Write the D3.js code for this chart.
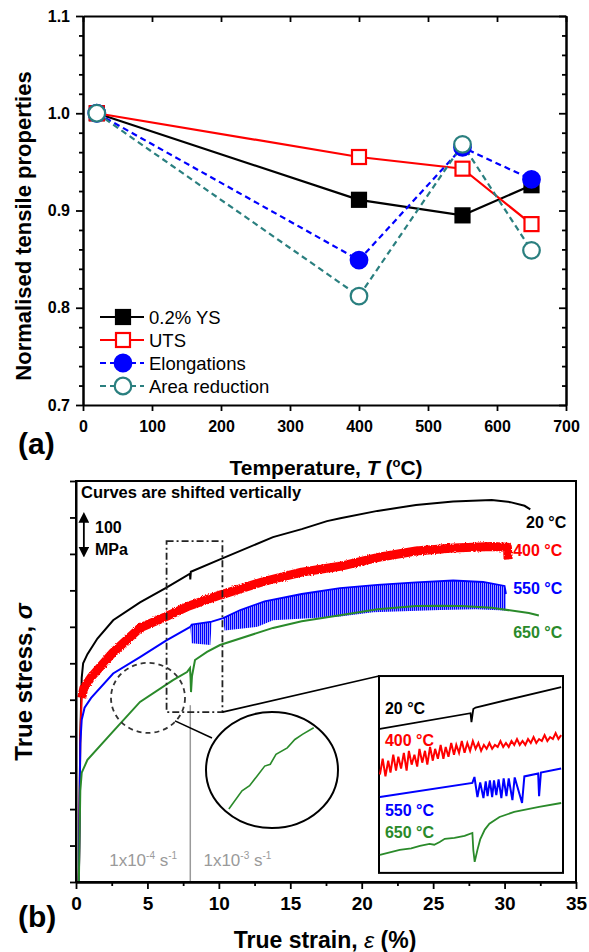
<!DOCTYPE html>
<html><head><meta charset="utf-8">
<script src="https://cdn.jsdelivr.net/npm/d3@7"></script>
<style>body{margin:0;background:#fff}svg{display:block}</style>
</head><body><svg id="c" width="589" height="952"></svg>
<script>
// ---------------- Panel (a) data ----------------
const temps = [20, 400, 550, 650];
const ys02 = [1.0, 0.911, 0.895, 0.926];
const uts = [1.0, 0.955, 0.943, 0.886];
const elong = [1.0, 0.849, 0.965, 0.932];
const areaRed = [1.0, 0.812, 0.968, 0.859];
const seriesNames = ["0.2% YS", "UTS", "Elongations", "Area reduction"];
const xTicksA = [0, 100, 200, 300, 400, 500, 600, 700];
const yTicksA = [0.7, 0.8, 0.9, 1.0, 1.1];
const yMinorA = [0.72,0.74,0.76,0.78,0.82,0.84,0.86,0.88,0.92,0.94,0.96,0.98,1.02,1.04,1.06,1.08];

// ---------------- Panel (b) data (strain %, stress MPa, curves shifted) ----------------
const xTicksB = [0, 5, 10, 15, 20, 25, 30, 35];
const xMinorB = [2.5, 7.5, 12.5, 17.5, 22.5, 27.5, 32.5];
const yTicksB = [0,100,200,300,400,500,600,700,800,900,1000,1100];
const curve20 = [[0.2,0],[0.3,400],[0.4,560],[0.5,600],[0.8,625],[1.5,668],[2.6,718],[4.48,767],[6.3,807],[7.98,846],[8.0,830],[8.04,851],[10.08,885],[13.79,946],[15.8,968],[17.57,990],[18.5,998],[21.1,1018],[23.8,1034],[26.4,1044],[29.1,1048],[30.4,1042],[31.4,1032],[31.8,1022]];
const curve400Elastic = [[0.2,0],[0.3,400],[0.4,505]];
const curve400 = [[0.4,505],[0.55,532],[1.06,562],[2.6,630],[4.48,697],[6.3,728],[7.9,757],[10.08,787],[13.2,825],[15.8,850],[18.48,866],[21.1,890],[23.8,908],[26.4,916],[29.1,920],[30.2,918],[30.25,885]];
const curve550 = [[0.2,0],[0.3,380],[0.4,445],[0.6,478],[1.06,505],[2.6,572],[4.48,617],[6.3,662],[8.0,700]];
const curve550Upper = [[8.0,700],[8.1,706],[9.5,714],[10.3,724],[11.5,746],[13.2,770],[15.8,790],[18.48,806],[21.1,815],[23.8,822],[26.4,827],[28.5,823],[30.0,812],[30.1,790]];
const curve550Lower = [[8.0,700],[8.1,655],[9.4,650],[9.5,714],[10.3,724],[10.4,690],[12.7,700],[13.8,718],[18.5,728],[20.8,740],[25.5,746],[28,748],[30.0,745],[30.1,745]];
const curve650 = [[0.2,0],[0.3,250],[0.4,300],[0.8,335],[2.6,413],[4.48,494],[6.79,554],[7.77,576],[7.98,587],[8.02,560],[8.05,521],[8.12,565],[8.33,609],[9.17,631],[10.08,650],[13.79,697],[15.8,715],[18.48,732],[21.1,748],[23.8,757],[25.48,758],[27,757],[29.1,752],[31.7,738],[32.4,731]];
const zoomLine650 = [[10.70,200],[11.62,250],[12.15,264],[12.68,291],[13.21,318],[13.60,323],[14.00,350],[14.79,368],[15.32,391],[15.85,405],[16.64,423]];
const curveLabels = ["20 °C", "400 °C", "550 °C", "650 °C"];

// inset: x in strain %, y in relative units 0..100
const inset20 = [[6.32,73.1],[8.29,81.1],[8.31,76.6],[8.35,83.2],[8.40,84.0],[10.26,94.4]];
const inset400 = [[6.32,50],[6.38,58],[6.44,49],[6.50,57],[6.55,51],[6.61,60],[6.67,52],[6.72,59],[6.78,53],[6.84,61],[6.90,52],[6.95,62],[7.01,55],[7.07,60],[7.13,54],[7.18,63],[7.24,56],[7.30,62],[7.35,55],[7.41,64],[7.47,57],[7.52,63],[7.58,58],[7.64,65],[7.70,58],[7.75,64],[7.81,59],[7.87,66],[7.93,60],[7.98,65],[8.04,61],[8.10,67],[8.16,61],[8.22,66],[8.28,62],[8.34,67],[8.40,63],[8.46,66],[8.52,62],[8.58,65],[8.64,63],[8.70,66],[8.76,63],[8.82,65],[8.88,64],[8.94,67],[9.00,64],[9.06,66],[9.12,64],[9.18,67],[9.24,65],[9.30,68],[9.36,65],[9.42,67],[9.48,65],[9.54,68],[9.60,66],[9.66,69],[9.72,66],[9.78,68],[9.84,67],[9.90,70],[9.96,67],[10.02,69],[10.08,68],[10.14,71],[10.20,68],[10.26,70]];
const inset550 = [[6.32,38.6],[8.33,45.7],[8.375,48.7],[8.44,38.5],[8.50,46],[8.57,38],[8.62,46.5],[8.66,39],[8.71,47],[8.76,38.5],[8.80,47],[8.85,39.5],[8.90,47.5],[8.96,38],[9.01,48],[9.07,39],[9.12,48],[9.20,37],[9.25,48.5],[9.41,35.5],[9.46,49],[9.76,50.5],[9.78,39],[9.82,51],[10.26,53]];
const inset650 = [[6.32,9.1],[6.75,11.7],[7.0,12.5],[7.19,13.7],[7.40,14.7],[7.5,14.3],[7.62,15.7],[7.73,17.3],[7.94,17.8],[8.16,18.8],[8.33,20.3],[8.35,11.7],[8.38,5.6],[8.44,11.7],[8.5,17],[8.6,22],[8.70,25],[8.92,28.4],[9.24,31],[9.78,33.5],[10.26,35.5]];

// ---------------- drawing ----------------
const FONT = '"Liberation Sans", Arial, Helvetica, sans-serif';
const RED = "#ff0000", BLUE = "#0000ff", TEAL = "#2a7f7f", GREEN = "#2a8a2a", GRAY = "#9a9a9a";
const svg = d3.select("#c");
svg.append("rect").attr("width", 589).attr("height", 952).attr("fill", "#fff");
const defs = svg.append("defs");
const pat = defs.append("pattern").attr("id", "serr").attr("patternUnits", "userSpaceOnUse").attr("width", 2).attr("height", 20);
pat.append("rect").attr("width", 1.4).attr("height", 20).attr("fill", BLUE);
const filt = defs.append("filter").attr("id", "rough").attr("x", "-5%").attr("y", "-30%").attr("width", "110%").attr("height", "160%");
filt.append("feTurbulence").attr("type", "fractalNoise").attr("baseFrequency", "0.9").attr("numOctaves", 2).attr("seed", 4).attr("result", "n");
filt.append("feDisplacementMap").attr("in", "SourceGraphic").attr("in2", "n").attr("scale", 3).attr("xChannelSelector", "R").attr("yChannelSelector", "G");
const mk = defs.append("marker").attr("id", "ah").attr("viewBox", "0 0 10 10").attr("refX", 5).attr("refY", 5)
  .attr("markerWidth", 6).attr("markerHeight", 6).attr("orient", "auto-start-reverse");
mk.append("path").attr("d", "M0,0L10,5L0,10Z").attr("fill", "#000");

function styleAxis(g, fs) {
  g.attr("font-family", FONT).attr("font-size", fs).attr("font-weight", "bold");
  g.select(".domain").attr("stroke-width", 2);
  g.selectAll(".tick line").attr("stroke-width", 1.8);
  g.selectAll(".tick text").attr("fill", "#000");
}

// ===== Panel (a) =====
const xA = d3.scaleLinear().domain([0, 700]).range([83, 566]);
const yA = d3.scaleLinear().domain([0.7, 1.1]).range([405, 16]);
const gA = svg.append("g");
styleAxis(gA.append("g").attr("transform", "translate(0,405)")
  .call(d3.axisBottom(xA).tickValues(xTicksA).tickSize(6).tickPadding(10).tickSizeOuter(0).tickFormat(d3.format("d"))), 16);
styleAxis(gA.append("g").attr("transform", "translate(0,16)")
  .call(d3.axisTop(xA).tickValues(xTicksA).tickSize(-6).tickSizeOuter(0).tickFormat("")), 16);
styleAxis(gA.append("g").attr("transform", "translate(83,0)")
  .call(d3.axisLeft(yA).tickValues(yTicksA).tickSize(7).tickPadding(6).tickSizeOuter(0).tickFormat(d3.format(".1f"))), 16);
styleAxis(gA.append("g").attr("transform", "translate(83,0)")
  .call(d3.axisLeft(yA).tickValues(yMinorA).tickSize(4).tickSizeOuter(0).tickFormat("")), 16);
styleAxis(gA.append("g").attr("transform", "translate(566,0)")
  .call(d3.axisRight(yA).tickValues(yTicksA).tickSize(-7).tickSizeOuter(0).tickFormat("")), 16);
styleAxis(gA.append("g").attr("transform", "translate(566,0)")
  .call(d3.axisRight(yA).tickValues(yMinorA).tickSize(-4).tickSizeOuter(0).tickFormat("")), 16);

const lineA = d3.line().x(d => xA(d[0])).y(d => yA(d[1]));
const specs = [
  { vals: ys02, color: "#000", dash: null, shape: "square", fill: "#000" },
  { vals: uts, color: RED, dash: null, shape: "square", fill: "#fff" },
  { vals: elong, color: BLUE, dash: "6,4", shape: "circle", fill: BLUE },
  { vals: areaRed, color: TEAL, dash: "6,4", shape: "circle", fill: "#fff" }
];
specs.forEach(s => {
  const pts = d3.zip(temps, s.vals);
  gA.append("path").attr("d", lineA(pts)).attr("fill", "none").attr("stroke", s.color)
    .attr("stroke-width", 2.2).attr("stroke-dasharray", s.dash);
});
function drawMarker(g, shape, cx, cy, color, fill) {
  if (shape === "square") {
    g.append("rect").attr("x", cx - 7).attr("y", cy - 7).attr("width", 14).attr("height", 14)
      .attr("fill", fill).attr("stroke", color).attr("stroke-width", 2.2);
  } else {
    g.append("circle").attr("cx", cx).attr("cy", cy).attr("r", 8.3)
      .attr("fill", fill).attr("stroke", color).attr("stroke-width", 2.2);
  }
}
specs.forEach(s => {
  d3.zip(temps, s.vals).forEach(p => drawMarker(gA, s.shape, xA(p[0]), yA(p[1]), s.color, s.fill));
});
// legend
const legY = [317, 340, 363, 386];
specs.forEach((s, i) => {
  const y = legY[i];
  gA.append("line").attr("x1", 100).attr("x2", 144).attr("y1", y).attr("y2", y)
    .attr("stroke", s.color).attr("stroke-width", 2.2).attr("stroke-dasharray", s.dash);
  drawMarker(gA, s.shape, 123, y, s.color, s.fill);
  gA.append("text").attr("x", 149).attr("y", y).attr("dy", "0.36em").attr("font-family", FONT)
    .attr("font-size", 18.5).text(seriesNames[i]);
});
// titles
gA.append("text").attr("transform", "translate(31,226) rotate(-90)").attr("text-anchor", "middle")
  .attr("font-family", FONT).attr("font-size", 22).attr("font-weight", "bold").text("Normalised tensile properties");
const xtA = gA.append("text").attr("x", 326).attr("y", 475).attr("text-anchor", "middle")
  .attr("font-family", FONT).attr("font-size", 21).attr("font-weight", "bold");
xtA.append("tspan").text("Temperature, ");
xtA.append("tspan").attr("font-style", "italic").text("T");
xtA.append("tspan").text(" (");
xtA.append("tspan").attr("font-size", 13).attr("dy", -8).text("o");
xtA.append("tspan").attr("dy", 8).text("C)");
gA.append("text").attr("x", 18).attr("y", 454).attr("font-family", FONT).attr("font-size", 30)
  .attr("font-weight", "bold").text("(a)");

// ===== Panel (b) =====
const xB = d3.scaleLinear().domain([0, 35]).range([76, 576]);
const yB = d3.scaleLinear().domain([0, 1100]).range([882, 481]);
const gB = svg.append("g");
const lineB = d3.line().x(d => xB(d[0])).y(d => yB(d[1]));

// curves
gB.append("path").attr("d", lineB(curve20)).attr("fill", "none").attr("stroke", "#000").attr("stroke-width", 2);
gB.append("path").attr("d", lineB(curve400Elastic)).attr("fill", "none").attr("stroke", RED).attr("stroke-width", 2);
gB.append("path").attr("d", lineB(curve400)).attr("fill", "none").attr("stroke", RED).attr("stroke-width", 9)
  .attr("stroke-linejoin", "round").attr("filter", "url(#rough)");
gB.append("path").attr("d", lineB(curve550)).attr("fill", "none").attr("stroke", BLUE).attr("stroke-width", 2);
gB.append("path").attr("d", lineB(curve550Upper.concat(curve550Lower.slice().reverse())) + "Z")
  .attr("fill", "url(#serr)").attr("stroke", "none");
gB.append("path").attr("d", lineB(curve550Upper)).attr("fill", "none").attr("stroke", BLUE).attr("stroke-width", 1.8);
gB.append("path").attr("d", lineB(curve650)).attr("fill", "none").attr("stroke", GREEN).attr("stroke-width", 2);

// curve labels
const labelPos = [[31.5, 987], [30.6, 911], [30.6, 806], [30.6, 686]];
const labelCol = ["#000", RED, BLUE, GREEN];
curveLabels.forEach((t, i) => {
  gB.append("text").attr("x", xB(labelPos[i][0])).attr("y", yB(labelPos[i][1])).attr("dy", "0.36em")
    .attr("font-family", FONT).attr("font-size", 16).attr("font-weight", "bold").attr("fill", labelCol[i]).text(t);
});

// strain-rate change marker
gB.append("line").attr("x1", xB(8)).attr("x2", xB(8)).attr("y1", yB(0)).attr("y2", yB(485))
  .attr("stroke", GRAY).attr("stroke-width", 1.5);
function rateText(x, y, exp) {
  const t = gB.append("text").attr("x", xB(x)).attr("y", yB(y)).attr("dy", "0.36em").attr("text-anchor", "middle")
    .attr("font-family", FONT).attr("font-size", 17).attr("fill", GRAY);
  t.append("tspan").text("1x10");
  t.append("tspan").attr("font-size", 10).attr("dy", -7).text(exp);
  t.append("tspan").attr("dy", 7).text(" s");
  t.append("tspan").attr("font-size", 10).attr("dy", -7).text("-1");
}
rateText(4.7, 60, "-4");
rateText(11.3, 60, "-3");

// dash-dot zoom rectangle
gB.append("rect").attr("x", xB(6.34)).attr("y", yB(935)).attr("width", xB(10.25) - xB(6.34)).attr("height", yB(466) - yB(935))
  .attr("fill", "none").attr("stroke", "#222").attr("stroke-width", 1.8).attr("stroke-dasharray", "7,3,2,3");
// dashed circle
gB.append("ellipse").attr("cx", xB(5.04)).attr("cy", yB(505)).attr("rx", 37).attr("ry", 35)
  .attr("fill", "none").attr("stroke", "#333").attr("stroke-width", 1.8).attr("stroke-dasharray", "5,4");
// connector to magnified circle
gB.append("line").attr("x1", xB(6.93)).attr("y1", yB(442)).attr("x2", xB(9.52)).attr("y2", yB(395))
  .attr("stroke", "#000").attr("stroke-width", 1.6);
gB.append("ellipse").attr("cx", xB(13.72)).attr("cy", yB(307)).attr("rx", 66).attr("ry", 58)
  .attr("fill", "#fff").attr("stroke", "#000").attr("stroke-width", 2);
gB.append("path").attr("d", lineB(zoomLine650)).attr("fill", "none").attr("stroke", GREEN).attr("stroke-width", 1.6);

// connector to inset
gB.append("line").attr("x1", xB(10.25)).attr("y1", yB(466)).attr("x2", xB(21.21)).attr("y2", yB(565))
  .attr("stroke", "#000").attr("stroke-width", 1.6);

// inset
const inX0 = 21.21, inX1 = 34.09, inY0 = 25, inY1 = 565;
gB.append("rect").attr("x", xB(inX0)).attr("y", yB(inY1)).attr("width", xB(inX1) - xB(inX0)).attr("height", yB(inY0) - yB(inY1))
  .attr("fill", "#fff").attr("stroke", "#000").attr("stroke-width", 2);
const xIn = d3.scaleLinear().domain([6.3, 10.3]).range([xB(inX0), xB(inX1)]);
const yIn = d3.scaleLinear().domain([0, 100]).range([yB(inY0), yB(inY1)]);
const lineIn = d3.line().x(d => xIn(d[0])).y(d => yIn(d[1]));
gB.append("path").attr("d", lineIn(inset20)).attr("fill", "none").attr("stroke", "#000").attr("stroke-width", 1.8);
gB.append("path").attr("d", lineIn(inset400)).attr("fill", "none").attr("stroke", RED).attr("stroke-width", 2);
gB.append("path").attr("d", lineIn(inset550)).attr("fill", "none").attr("stroke", BLUE).attr("stroke-width", 2);
gB.append("path").attr("d", lineIn(inset650)).attr("fill", "none").attr("stroke", GREEN).attr("stroke-width", 1.8);
const inLabelY = [83.8, 67.5, 32, 20.8];
curveLabels.forEach((t, i) => {
  gB.append("text").attr("x", xIn(6.43)).attr("y", yIn(inLabelY[i])).attr("dy", "0.36em")
    .attr("font-family", FONT).attr("font-size", 16).attr("font-weight", "bold").attr("fill", labelCol[i]).text(t);
});

// frame + axes
gB.append("rect").attr("x", xB(0)).attr("y", yB(1100)).attr("width", xB(35) - xB(0)).attr("height", yB(0) - yB(1100))
  .attr("fill", "none").attr("stroke", "#000").attr("stroke-width", 2);
styleAxis(gB.append("g").attr("transform", "translate(0,882)")
  .call(d3.axisBottom(xB).tickValues(xTicksB).tickSize(7).tickPadding(8).tickSizeOuter(0).tickFormat(d3.format("d"))), 19);
styleAxis(gB.append("g").attr("transform", "translate(0,882)")
  .call(d3.axisBottom(xB).tickValues(xMinorB).tickSize(4).tickSizeOuter(0).tickFormat("")), 19);
styleAxis(gB.append("g").attr("transform", "translate(76,0)")
  .call(d3.axisLeft(yB).tickValues(yTicksB).tickSize(6).tickSizeOuter(0).tickFormat("")), 19);

// annotations
gB.append("text").attr("x", 81).attr("y", 492).attr("dy", "0.36em").attr("font-family", FONT)
  .attr("font-size", 16.5).attr("font-weight", "bold").text("Curves are shifted vertically");
gB.append("line").attr("x1", xB(0.55)).attr("x2", xB(0.55)).attr("y1", yB(905)).attr("y2", yB(1000))
  .attr("stroke", "#000").attr("stroke-width", 1.8).attr("marker-start", "url(#ah)").attr("marker-end", "url(#ah)");
gB.append("text").attr("x", 95).attr("y", 527).attr("dy", "0.36em").attr("font-family", FONT)
  .attr("font-size", 16).attr("font-weight", "bold").text("100");
gB.append("text").attr("x", 95).attr("y", 549).attr("dy", "0.36em").attr("font-family", FONT)
  .attr("font-size", 16).attr("font-weight", "bold").text("MPa");

const ytB = gB.append("text").attr("transform", "translate(32,682) rotate(-90)").attr("text-anchor", "middle")
  .attr("font-family", FONT).attr("font-size", 24).attr("font-weight", "bold");
ytB.append("tspan").text("True stress, ");
ytB.append("tspan").attr("font-style", "italic").text("σ");
const xtB = gB.append("text").attr("x", 325).attr("y", 948).attr("text-anchor", "middle")
  .attr("font-family", FONT).attr("font-size", 23).attr("font-weight", "bold");
xtB.append("tspan").text("True strain, ");
xtB.append("tspan").attr("font-style", "italic").attr("font-weight", "normal").text("ε");
xtB.append("tspan").text(" (%)");
gB.append("text").attr("x", 18).attr("y", 927).attr("font-family", FONT).attr("font-size", 30)
  .attr("font-weight", "bold").text("(b)");
</script></body></html>
